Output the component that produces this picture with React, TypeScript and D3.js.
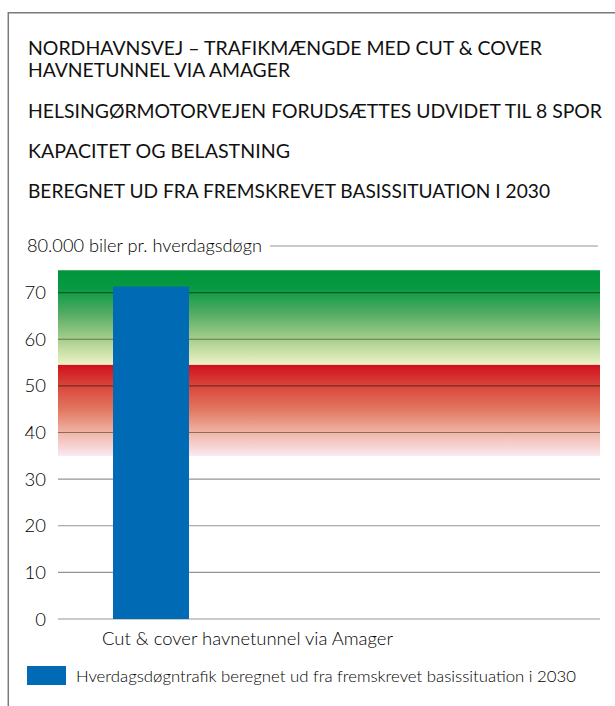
import React from "react";
import * as d3 from "d3";

const titleLines = [
  "NORDHAVNSVEJ – TRAFIKMÆNGDE MED CUT & COVER",
  "HAVNETUNNEL VIA AMAGER",
  "HELSINGØRMOTORVEJEN FORUDSÆTTES UDVIDET TIL 8 SPOR",
  "KAPACITET OG BELASTNING",
  "BEREGNET UD FRA FREMSKREVET BASISSITUATION I 2030",
];
const categories = ["Cut & cover havnetunnel via Amager"];
const values = [71.3];
const yTicks = [0, 10, 20, 30, 40, 50, 60, 70];
const topLabel = "80.000 biler pr. hverdagsdøgn";
const topValue = 80;
const greenBand = [54.5, 74.8];
const redBand = [35, 54.5];
const legendLabel = "Hverdagsdøgntrafik beregnet ud fra fremskrevet basissituation i 2030";

const W = 615;
const H = 706;
const FONT = "Lato, 'Open Sans', sans-serif";

export default function App() {
  const x0 = 58;
  const x1 = 600;
  const y = d3.scaleLinear().domain([0, 80]).range([619, 246]);
  const x = d3.scaleBand<string>().domain(categories).range([58, 244]).padding(0.42);

  const titleSpecs = [
    { y: 55, len: 514 },
    { y: 77, len: 262 },
    { y: 118, len: 574 },
    { y: 158, len: 262 },
    { y: 198, len: 522 },
  ];

  return (
    <svg width={W} height={H} style={{ position: "absolute", left: 0, top: 0 }} fontFamily={FONT}>
      <defs>
        <linearGradient id="gGreen" x1="0" y1="0" x2="0" y2="1">
          <stop offset="0" stopColor="#00943c" />
          <stop offset="0.2" stopColor="#089a42" />
          <stop offset="0.45" stopColor="#52ab63" />
          <stop offset="0.75" stopColor="#acd190" />
          <stop offset="1" stopColor="#eef3c8" />
        </linearGradient>
        <linearGradient id="gRed" x1="0" y1="0" x2="0" y2="1">
          <stop offset="0" stopColor="#d0101c" />
          <stop offset="0.22" stopColor="#d8443a" />
          <stop offset="0.5" stopColor="#e27962" />
          <stop offset="0.75" stopColor="#f1b6a8" />
          <stop offset="1" stopColor="#fbe8f0" />
        </linearGradient>
      </defs>
      <rect width={W} height={H} fill="#fff" />
      <path d={`M${W},12.7H8.3V${H}`} fill="none" stroke="#7a7a7a" strokeWidth={1.5} />

      {titleLines.map((t, i) => (
        <text key={i} x={28} y={titleSpecs[i].y} fontSize={19.5} fill="#111"
          textLength={titleSpecs[i].len} lengthAdjust="spacingAndGlyphs">{t}</text>
      ))}

      <rect x={x0} y={y(greenBand[1])} width={x1 - x0} height={y(greenBand[0]) - y(greenBand[1])} fill="url(#gGreen)" />
      <rect x={x0} y={y(redBand[1])} width={x1 - x0} height={y(redBand[0]) - y(redBand[1])} fill="url(#gRed)" />

      {yTicks.map((t) => (
        <g key={t}>
          <line x1={x0} x2={x1} y1={y(t)} y2={y(t)} stroke="#000" strokeOpacity={0.42} strokeWidth={1.2} />
          <text x={46} y={y(t) + 6.5} textAnchor="end" fontSize={18.5} fontWeight={300} fill="#000">{t}</text>
        </g>
      ))}

      <text x={27} y={252} fontSize={18} fontWeight={300} fill="#000" textLength={235} lengthAdjust="spacingAndGlyphs">{topLabel}</text>
      <line x1={270} x2={598} y1={y(topValue)} y2={y(topValue)} stroke="#000" strokeOpacity={0.42} strokeWidth={1.2} />

      {categories.map((c, i) => (
        <g key={c}>
          <rect x={x(c)} y={y(values[i])} width={x.bandwidth()} height={y(0) - y(values[i])} fill="#006ab4" />
          <text x={102} y={645} fontSize={17.5} fontWeight={300} fill="#000" textLength={291} lengthAdjust="spacingAndGlyphs">{c}</text>
        </g>
      ))}

      <rect x={27} y={666} width={39} height={19} fill="#006ab4" />
      <text x={76} y={682} fontSize={16.5} fontWeight={300} fill="#000" textLength={500} lengthAdjust="spacingAndGlyphs">{legendLabel}</text>
    </svg>
  );
}
